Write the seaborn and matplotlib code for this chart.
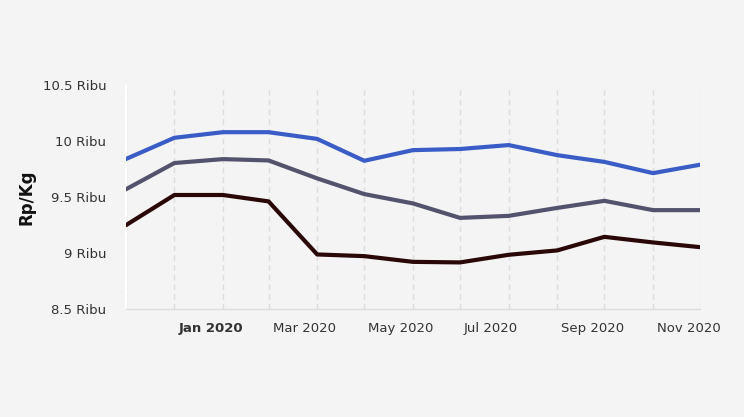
import matplotlib.pyplot as plt
import matplotlib.dates as mdates
import matplotlib.ticker as mticker
import matplotlib.transforms as mtransforms
import pandas as pd
import seaborn as sns

sns.set_theme(style="white")
plt.rcParams['font.family'] = ['DejaVu Sans']

# monthly prices, Dec 2019 .. Dec 2020 (thousand Rp / kg)
months = pd.date_range("2019-12-01", "2020-12-01", freq="MS")
harga_atas = [9.84, 10.03, 10.08, 10.08, 10.02, 9.825, 9.92, 9.93, 9.965, 9.875, 9.815, 9.715, 9.79]
harga_tengah = [9.57, 9.805, 9.84, 9.828, 9.668, 9.528, 9.445, 9.316, 9.334, 9.405, 9.468, 9.385, 9.385]
harga_bawah = [9.25, 9.52, 9.52, 9.463, 8.99, 8.975, 8.924, 8.919, 8.987, 9.026, 9.147, 9.097, 9.055]
y_ticks = [8.5, 9, 9.5, 10, 10.5]

df = pd.DataFrame({
    "bulan": list(months) * 3,
    "harga": harga_atas + harga_tengah + harga_bawah,
    "seri": ["atas"] * 13 + ["tengah"] * 13 + ["bawah"] * 13,
})
warna = {"atas": "#3a5cc6", "tengah": "#54536e", "bawah": "#2a0808"}

bg = "#f4f4f4"
fig = plt.figure(figsize=(7.44, 4.17), dpi=100, facecolor=bg)
ax = fig.add_axes([0.169, 0.258, 0.772, 0.538], facecolor=bg)

#  draw the three series
sns.lineplot(data=df, x="bulan", y="harga", hue="seri", palette=warna,
             linewidth=3, legend=False, ax=ax, zorder=3)

ax.set_xlim(months[0], months[-1])
ax.set_ylim(8.5, 10.5)

#  x axis: labelled every second month, grid at every month
ax.xaxis.set_major_locator(mdates.MonthLocator(bymonth=[1, 3, 5, 7, 9, 11]))
ax.xaxis.set_major_formatter(mdates.DateFormatter("%b %Y"))
ax.xaxis.set_minor_locator(mdates.MonthLocator())
ax.grid(True, which="both", axis="x", color="#dcdcdc", linestyle=(0, (4, 3)), linewidth=1)
ax.tick_params(axis="x", which="both", length=7, width=1, color="#dcdcdc",
               labelsize=9.5, labelcolor="#333333", pad=2)
shift = mtransforms.ScaledTranslation(4 / 100, 0, fig.dpi_scale_trans)
for lbl in ax.get_xticklabels():
    lbl.set_horizontalalignment("left")
    lbl.set_transform(lbl.get_transform() + shift)
    if lbl.get_text() == "Jan 2020":
        lbl.set_fontweight("bold")

#  y axis
ax.set_yticks(y_ticks)
ax.yaxis.set_major_formatter(mticker.FuncFormatter(lambda v, p: f"{v:g} Ribu"))
ax.tick_params(axis="y", length=8, width=1.5, color="white",
               labelsize=9.5, labelcolor="#333333", pad=6)
ax.set_ylabel("Rp/Kg", fontsize=12, fontweight="bold", color="#111111", labelpad=5)
ax.set_xlabel("")

for side in ["top", "right"]:
    ax.spines[side].set_visible(False)
ax.spines["left"].set_color("white")
ax.spines["left"].set_linewidth(1.5)
ax.spines["bottom"].set_color("#dcdcdc")
ax.spines["bottom"].set_linewidth(1)

fig.savefig("out.png", dpi=100, facecolor=bg)
